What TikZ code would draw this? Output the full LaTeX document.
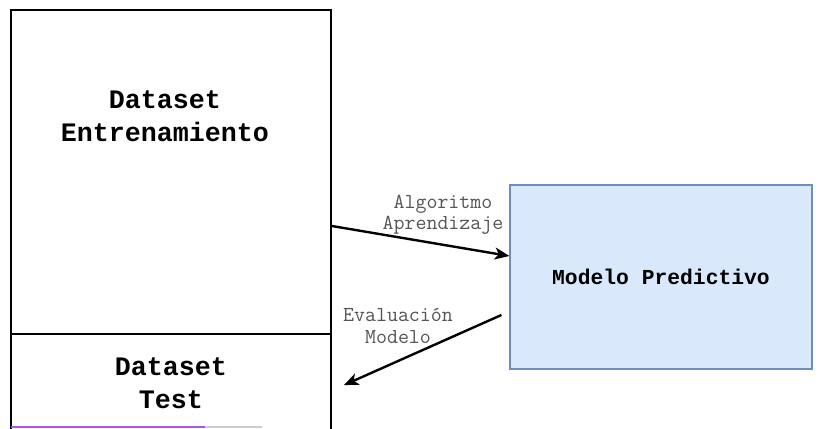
\documentclass[tikz,border=0pt]{standalone}
\usepackage{fontspec}
\newfontfamily\boxfont{Liberation Mono}
\usetikzlibrary{arrows.meta}

\definecolor{modelfill}{HTML}{DAE8FC}
\definecolor{modeldraw}{HTML}{6C8EBF}
\definecolor{lblgray}{HTML}{555555}
\definecolor{barviolet}{HTML}{A855F7}

\tikzset{
  databox/.style={draw=black, line width=1.3pt, minimum width=240pt, inner sep=0pt},
  bigtxt/.style={font=\boxfont\bfseries\fontsize{20}{24.5}\selectfont, align=center},
  modelbox/.style={draw=modeldraw, fill=modelfill, line width=0.9pt,
    minimum width=226.5pt, minimum height=138pt, inner sep=0pt,
    font=\boxfont\bfseries\fontsize{16}{19}\selectfont},
  edgelbl/.style={text=lblgray, font=\ttfamily\fontsize{16}{16}\selectfont, align=center},
  flow/.style={line width=1.8pt, -{Stealth[length=11pt,width=9pt,inset=3pt]}}
}

\begin{document}
\begin{tikzpicture}[x=0.75pt, y=-0.75pt]
    % page frame
    \clip (0,0) rectangle (833,429);
    \fill[white] (0,0) rectangle (833,429);

    % Define the boxes
    \node[databox, minimum height=243pt] (train) at (171,172) {};
    \node[databox, minimum height=120pt] (test) at (171,414) {};
    \node[modelbox] (model) at (661,277) {Modelo Predictivo};

    % Box texts
    \node[bigtxt] (trainlbl) at (165,116) {Dataset\\Entrenamiento};
    \node[bigtxt] (testlbl) at (171,383) {Dataset\\Test};

    % Draw the arrows
    \draw[flow] ([yshift=-40.5pt]train.east) -- ([yshift=15.75pt]model.west);
    \draw[flow] ([xshift=-6pt,yshift=-28.5pt]model.west) -- ([xshift=9pt,yshift=-39pt]test.north east);

    % Arrow labels
    \node[edgelbl] (learnlbl) at (443,215) {Algoritmo\\Aprendizaje};
    \node[edgelbl] (evallbl) at (398,326) {Evaluación\\Modelo};

    % bottom bar
    \draw[line width=1.5pt, black!20] (11,427) -- (262,427);
    \draw[line width=1.5pt, barviolet] (11,427) -- (205,427);
\end{tikzpicture}
\end{document}
